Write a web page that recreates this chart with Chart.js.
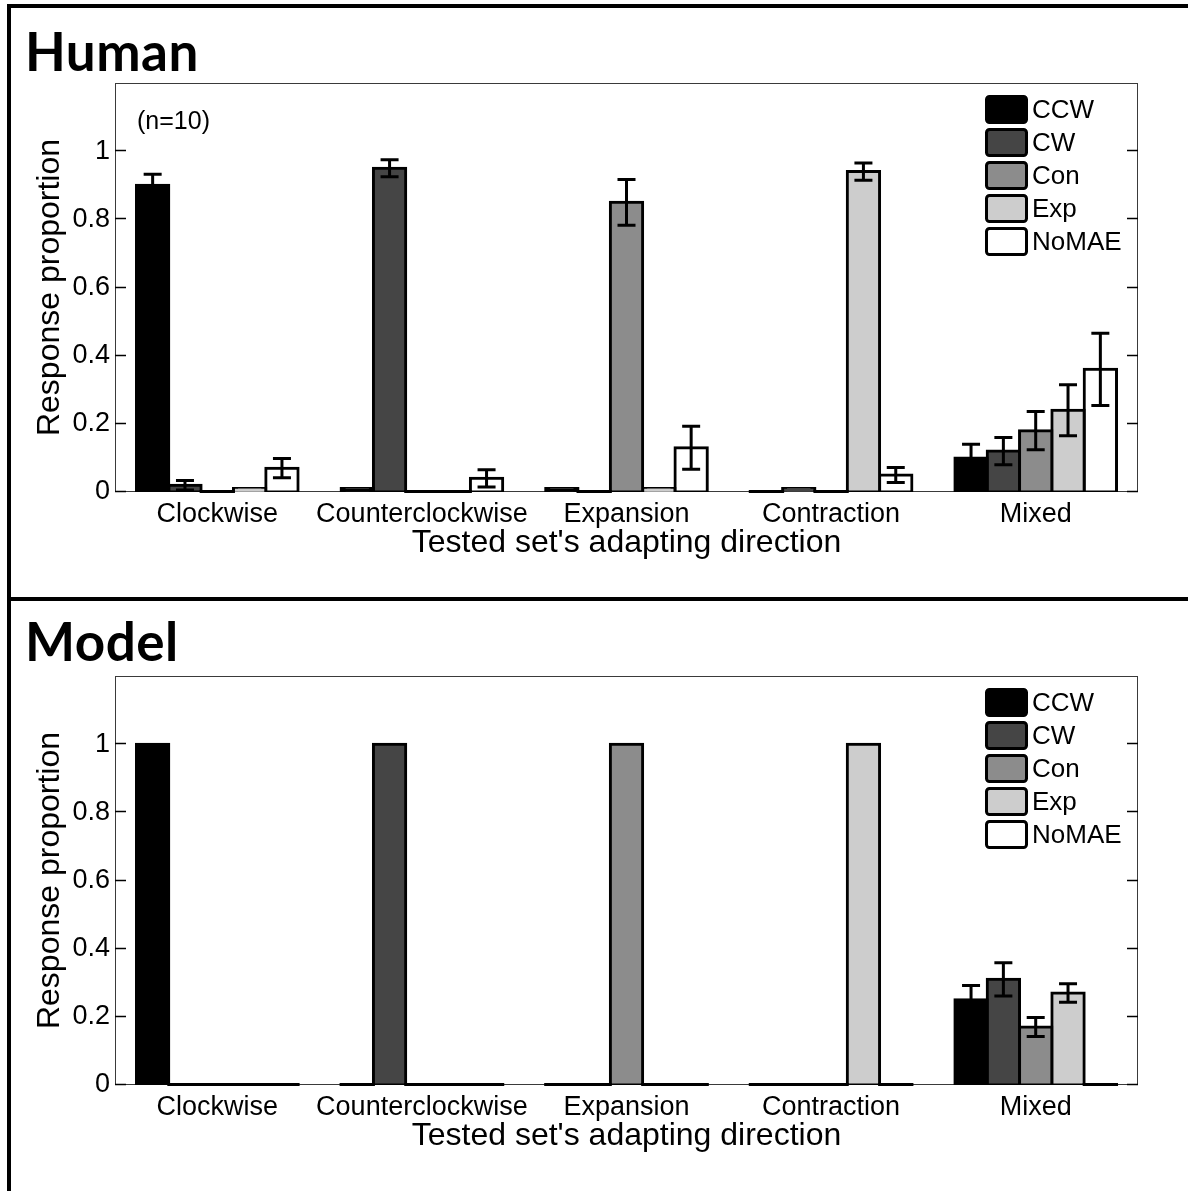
<!DOCTYPE html>
<html><head><meta charset="utf-8">
<script src="https://cdn.jsdelivr.net/npm/chart.js@4/dist/chart.umd.min.js"></script>
<style>
html,body{margin:0;padding:0;background:#fff;}
body{width:1188px;height:1191px;position:relative;overflow:hidden;}
.panel{position:absolute;left:0;width:1188px;}
.title{position:absolute;left:25px;font-family:Lato,"Open Sans",sans-serif;font-weight:700;font-size:53px;line-height:53px;letter-spacing:0.5px;color:#000;}
.line{position:absolute;background:#000;}
</style></head>
<body>
<div class="panel" style="top:0;height:598px"><canvas id="c1" width="1188" height="598"></canvas></div>
<div class="panel" style="top:598px;height:593px"><canvas id="c2" width="1188" height="593"></canvas></div>
<div class="title" style="top:24px">Human</div>
<div class="title" style="top:614px">Model</div>
<div class="line" style="left:7px;top:4px;width:1181px;height:4px"></div>
<div class="line" style="left:7px;top:4px;width:4px;height:1187px"></div>
<div class="line" style="left:7px;top:597px;width:1181px;height:4px"></div>
<script>
// ---- data ----
const categories = ['Clockwise', 'Counterclockwise', 'Expansion', 'Contraction', 'Mixed'];
const seriesNames = ['CCW', 'CW', 'Con', 'Exp', 'NoMAE'];
const seriesColors = ['#000000', '#454545', '#8c8c8c', '#cdcdcd', '#ffffff'];
const yTickLabels = ['0', '0.2', '0.4', '0.6', '0.8', '1'];
const yTickValues = [0, 0.2, 0.4, 0.6, 0.8, 1];
const xTitle = "Tested set's adapting direction";
const yTitle = 'Response proportion';

// Human (n=10)
const humanCCW   = [0.90, 0.01, 0.01, 0.00, 0.10];
const humanCW    = [0.02, 0.95, 0.00, 0.01, 0.12];
const humanCon   = [0.00, 0.00, 0.85, 0.00, 0.18];
const humanExp   = [0.01, 0.00, 0.01, 0.94, 0.24];
const humanNoMAE = [0.07, 0.04, 0.13, 0.05, 0.36];
const humanErrCCW   = [0.032, 0, 0, 0, 0.040];
const humanErrCW    = [0.014, 0.025, 0, 0, 0.040];
const humanErrCon   = [0, 0, 0.067, 0, 0.056];
const humanErrExp   = [0, 0, 0, 0.025, 0.075];
const humanErrNoMAE = [0.028, 0.025, 0.063, 0.022, 0.106];

// Model
const modelCCW   = [1.00, 0.00, 0.00, 0.00, 0.25];
const modelCW    = [0.00, 1.00, 0.00, 0.00, 0.31];
const modelCon   = [0.00, 0.00, 1.00, 0.00, 0.17];
const modelExp   = [0.00, 0.00, 0.00, 1.00, 0.27];
const modelNoMAE = [0.00, 0.00, 0.00, 0.00, 0.00];
const modelErrCCW   = [0, 0, 0, 0, 0.042];
const modelErrCW    = [0, 0, 0, 0, 0.049];
const modelErrCon   = [0, 0, 0, 0, 0.028];
const modelErrExp   = [0, 0, 0, 0, 0.027];
const modelErrNoMAE = [0, 0, 0, 0, 0];

const FONT = '"Liberation Sans", Arial, Helvetica, sans-serif';

const panelPlugin = {
  id: 'panel',
  beforeDatasetsDraw(chart) {
    const {ctx, chartArea: a, scales: {y}} = chart;
    ctx.save();
    ctx.strokeStyle = '#3a3a3a'; ctx.lineWidth = 1;
    ctx.strokeRect(a.left + 0.5, a.top + 0.5, a.right - a.left - 1, a.bottom - a.top - 1);
    ctx.strokeStyle = '#000'; ctx.lineWidth = 1.5;
    yTickValues.forEach(v => {
      const py = Math.round(y.getPixelForValue(v)) - 0.5;
      ctx.beginPath();
      ctx.moveTo(a.left, py); ctx.lineTo(a.left + 11, py);
      ctx.moveTo(a.right, py); ctx.lineTo(a.right - 11, py);
      ctx.stroke();
    });
    ctx.restore();
  },
  afterDatasetsDraw(chart, args, opts) {
    const {ctx, scales: {y}} = chart;
    const errs = opts.errors;
    ctx.save();
    ctx.strokeStyle = '#000';
    chart.data.datasets.forEach((ds, di) => {
      const meta = chart.getDatasetMeta(di);
      meta.data.forEach((bar, i) => {
        const v = ds.data[i];
        const p = bar.getProps(['x', 'width', 'base'], true);
        if (v === 0) {
          ctx.lineWidth = 3;
          ctx.beginPath();
          ctx.moveTo(p.x - p.width / 2 - 1.5, p.base - 0.5);
          ctx.lineTo(p.x + p.width / 2 + 1.5, p.base - 0.5);
          ctx.stroke();
        }
      });
    });
    chart.data.datasets.forEach((ds, di) => {
      const meta = chart.getDatasetMeta(di);
      meta.data.forEach((bar, i) => {
        const v = ds.data[i];
        const e = errs[di][i];
        if (!e) return;
        const p = bar.getProps(['x'], true);
        const yt = y.getPixelForValue(v + e), yb = y.getPixelForValue(v - e);
        ctx.lineWidth = 3;
        ctx.beginPath();
        ctx.moveTo(p.x, yt); ctx.lineTo(p.x, yb);
        ctx.moveTo(p.x - 9, yt); ctx.lineTo(p.x + 9, yt);
        ctx.moveTo(p.x - 9, yb); ctx.lineTo(p.x + 9, yb);
        ctx.stroke();
      });
    });
    ctx.restore();
  },
  afterDraw(chart, args, opts) {
    const {ctx, chartArea: a} = chart;
    ctx.save();
    // legend
    const sx = a.right - 153;
    chart.data.datasets.forEach((ds, i) => {
      const sy = a.top + 12 + i * 33;
      ctx.fillStyle = ds.backgroundColor;
      ctx.strokeStyle = '#000';
      ctx.lineWidth = 3;
      ctx.beginPath();
      if (ctx.roundRect) ctx.roundRect(sx + 1.5, sy + 1.5, 40, 26, 3); else ctx.rect(sx + 1.5, sy + 1.5, 40, 26);
      ctx.fill(); ctx.stroke();
      ctx.fillStyle = '#000';
      ctx.font = '26px ' + FONT;
      ctx.textBaseline = 'middle';
      ctx.textAlign = 'left';
      ctx.fillText(ds.label, sx + 47, sy + 16);
    });
    if (opts.note) {
      ctx.font = '25px ' + FONT;
      ctx.fillStyle = '#000';
      ctx.textBaseline = 'middle';
      ctx.fillText(opts.note, a.left + 22, a.top + 39);
    }
    ctx.restore();
  }
};

function makeChart(id, series, errors, padTop, note) {
  return new Chart(document.getElementById(id), {
    type: 'bar',
    data: {
      labels: categories,
      datasets: seriesNames.map((n, k) => ({
        label: n, data: series[k], backgroundColor: seriesColors[k],
        borderColor: '#000', borderWidth: 3, borderSkipped: false, inflateAmount: 1.5,
        categoryPercentage: 0.79, barPercentage: 1.0
      }))
    },
    options: {
      responsive: false, animation: false, devicePixelRatio: 1,
      layout: {padding: {top: padTop, right: 50, left: 0, bottom: 0}},
      plugins: {legend: {display: false}, tooltip: {enabled: false}, panel: {errors, note}},
      scales: {
        x: {
          grid: {display: false, drawTicks: false}, border: {display: false},
          ticks: {color: '#000', font: {family: FONT, size: 27}, padding: 6, maxRotation: 0, autoSkip: false},
          title: {display: true, text: xTitle, color: '#000', font: {family: FONT, size: 32}, padding: {top: 0, bottom: 36}},
          afterFit(s) { s.height = 106; }
        },
        y: {
          min: 0, max: 1.2,
          grid: {display: false, drawTicks: false}, border: {display: false},
          ticks: {stepSize: 0.2, color: '#000', font: {family: FONT, size: 27}, padding: 5,
                  callback: (v, i) => (yTickLabels[i] !== undefined ? yTickLabels[i] : '')},
          title: {display: true, text: yTitle, color: '#000', font: {family: FONT, size: 32}, padding: {top: 31, bottom: 0}},
          afterFit(s) { s.width = 115; }
        }
      }
    },
    plugins: [panelPlugin]
  });
}

makeChart('c1',
  [humanCCW, humanCW, humanCon, humanExp, humanNoMAE],
  [humanErrCCW, humanErrCW, humanErrCon, humanErrExp, humanErrNoMAE],
  83, '(n=10)');
makeChart('c2',
  [modelCCW, modelCW, modelCon, modelExp, modelNoMAE],
  [modelErrCCW, modelErrCW, modelErrCon, modelErrExp, modelErrNoMAE],
  78, null);
</script>
</body></html>
